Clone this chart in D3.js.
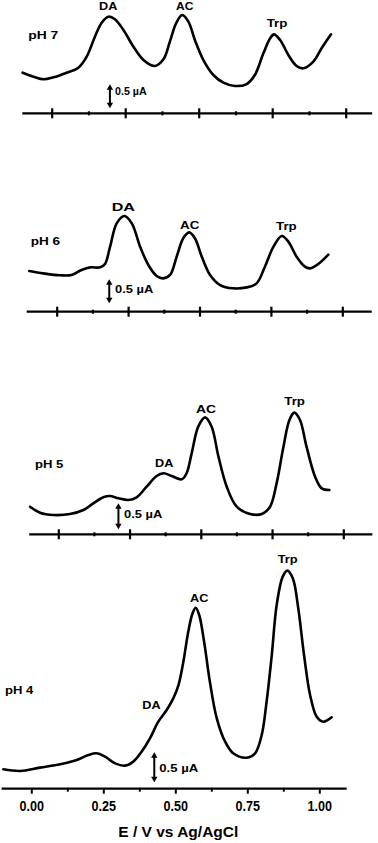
<!DOCTYPE html>
<html>
<head>
<meta charset="utf-8">
<script src="https://cdn.jsdelivr.net/npm/d3@7"></script>
<style>
  html, body { margin: 0; padding: 0; background: #fff; }
  svg { display: block; }
  text { font-family: "Liberation Sans", Arial, sans-serif; font-weight: bold; fill: #000; }
</style>
</head>
<body>
<svg id="chart" width="378" height="843"></svg>
<script>
// ---------------- DATA ----------------
const majorTicks = [0, 0.25, 0.5, 0.75, 1.0];
const minorTicks = [0.125, 0.375, 0.625, 0.875];
const tickLabels = ["0.00", "0.25", "0.50", "0.75", "1.00"];
const xTitle = "E / V vs Ag/AgCl";
const scaleBarValue = 0.5; // µA
const scaleBarLabel = "0.5 µA";

// pH 7
const potential_pH7 = [-0.099,-0.062,-0.028,0.006,0.051,0.091,0.119,0.147,0.170,0.193,0.215,0.244,0.278,0.312,0.351,0.380,0.402,0.423,0.444,0.465,0.487,0.516,0.550,0.584,0.623,0.663,0.691,0.720,0.743,0.756,0.777,0.805,0.833,0.856,0.890,0.918,0.950];
const current_pH7   = [0.846,0.763,0.708,0.749,0.846,0.951,1.180,1.596,1.888,2.013,1.958,1.735,1.388,1.110,0.985,1.124,1.492,1.874,2.048,1.909,1.527,1.110,0.798,0.638,0.569,0.610,0.798,1.249,1.562,1.645,1.527,1.215,0.985,0.937,1.076,1.354,1.645];

// pH 6
const potential_pH6 = [-0.096,-0.047,0.012,0.052,0.087,0.117,0.152,0.169,0.187,0.210,0.237,0.263,0.292,0.321,0.350,0.373,0.397,0.420,0.443,0.464,0.484,0.508,0.537,0.572,0.618,0.665,0.700,0.729,0.759,0.788,0.811,0.840,0.869,0.887,0.916,0.951];
const current_pH6   = [0.848,0.799,0.758,0.765,0.869,0.924,0.924,0.994,1.355,1.841,1.994,1.841,1.355,0.973,0.744,0.695,0.765,1.146,1.529,1.653,1.529,1.146,0.765,0.556,0.487,0.507,0.591,0.938,1.355,1.577,1.459,1.146,0.938,0.903,0.994,1.188];

// pH 5
const potential_pH5 = [-0.099,-0.064,-0.017,0.041,0.088,0.123,0.158,0.181,0.211,0.246,0.275,0.310,0.345,0.369,0.398,0.433,0.450,0.468,0.491,0.515,0.538,0.562,0.591,0.626,0.673,0.714,0.743,0.766,0.790,0.811,0.828,0.848,0.871,0.901,0.924,0.951];
const current_pH5   = [0.531,0.416,0.371,0.390,0.467,0.596,0.711,0.737,0.692,0.660,0.711,0.916,1.121,1.173,1.121,1.057,1.173,1.557,2.070,2.249,2.070,1.493,0.916,0.531,0.390,0.390,0.531,0.980,1.685,2.198,2.339,2.198,1.685,1.108,0.884,0.852];

// pH 4
const potential_pH4 = [-0.097,-0.039,0.030,0.100,0.158,0.198,0.227,0.256,0.291,0.325,0.354,0.383,0.412,0.441,0.470,0.493,0.511,0.528,0.545,0.560,0.571,0.583,0.600,0.620,0.644,0.673,0.701,0.748,0.777,0.800,0.817,0.835,0.852,0.873,0.889,0.908,0.927,0.947,0.968,0.991,1.014,1.043];
const current_pH4   = [0.323,0.295,0.351,0.406,0.478,0.562,0.590,0.534,0.423,0.384,0.451,0.617,0.840,1.117,1.312,1.506,1.728,2.117,2.617,2.923,3.017,2.895,2.451,1.784,1.173,0.784,0.590,0.517,0.590,0.895,1.451,2.228,3.062,3.534,3.634,3.506,3.006,2.228,1.562,1.200,1.117,1.190];

const panelNames = ["pH 7", "pH 6", "pH 5", "pH 4"];
const peakNames = ["DA", "AC", "Trp"];

// ---------------- LAYOUT (positions / sizes) ----------------
const panels = [
  { name: panelNames[0], v: potential_pH7, i: current_pH7,
    axisY: 113.3, ppu: 48, x0: 51.7, ppv: 294, xDom: [-0.1, 1.09], bottom: false,
    bar: { v: 0.198, i: 0.104 },
    labels: [
      { t: peakNames[0], x: 99,    y: 9.5,   w: 18.3 },
      { t: peakNames[1], x: 176,   y: 9.5,   w: 17.3 },
      { t: peakNames[2], x: 266.7, y: 26.7,  w: 20.7 },
      { t: panelNames[0], x: 28.3, y: 39.3,  w: 30 },
      { t: scaleBarLabel, x: 115,  y: 95,    w: 31.7 }
    ] },
  { name: panelNames[1], v: potential_pH6, i: current_pH6,
    axisY: 311.7, ppu: 48, x0: 56.7, ppv: 285.6, xDom: [-0.105, 1.103], bottom: false,
    bar: { v: 0.184, i: 0.175 },
    labels: [
      { t: peakNames[0], x: 111.7, y: 210.7, w: 23.3 },
      { t: peakNames[1], x: 180,   y: 229,   w: 19.3 },
      { t: peakNames[2], x: 276,   y: 230,   w: 20.7 },
      { t: panelNames[1], x: 30.7, y: 245,   w: 29.3 },
      { t: scaleBarLabel, x: 115,  y: 293.3, w: 38.3 }
    ] },
  { name: panelNames[2], v: potential_pH5, i: current_pH5,
    axisY: 534.3, ppu: 52, x0: 58.3, ppv: 285, xDom: [-0.102, 1.102], bottom: false,
    bar: { v: 0.211, i: 0.096 },
    labels: [
      { t: peakNames[1], x: 196,   y: 412.7, w: 20 },
      { t: peakNames[2], x: 284.3, y: 405,   w: 20.7 },
      { t: peakNames[0], x: 155,   y: 467.3, w: 18.3 },
      { t: panelNames[2], x: 35,   y: 468.3, w: 28.3 },
      { t: scaleBarLabel, x: 124,  y: 518,   w: 38.3 }
    ] },
  { name: panelNames[3], v: potential_pH4, i: current_pH4,
    axisY: 788.7, ppu: 60, x0: 31.3, ppv: 288, xDom: [-0.103, 1.095], bottom: true,
    bar: { v: 0.427, i: 0.107 },
    labels: [
      { t: peakNames[2], x: 277.7, y: 562.7, w: 20 },
      { t: peakNames[1], x: 190,   y: 601.7, w: 18.3 },
      { t: peakNames[0], x: 142.3, y: 709.3, w: 18.3 },
      { t: panelNames[3], x: 5,    y: 694.3, w: 28.3 },
      { t: scaleBarLabel, x: 159.3, y: 772,  w: 39 }
    ] }
];

const svg = d3.select("#chart");

panels.forEach(p => {
  const x = d3.scaleLinear().domain(p.xDom)
    .range([p.x0 + p.xDom[0] * p.ppv, p.x0 + p.xDom[1] * p.ppv]);
  const y = d3.scaleLinear().domain([0, 1]).range([p.axisY, p.axisY - p.ppu]);
  const g = svg.append("g");

  // axis
  if (p.bottom) {
    const ax = g.append("g").attr("transform", `translate(0,${p.axisY})`)
      .call(d3.axisBottom(x).tickValues(majorTicks).tickSize(5).tickPadding(4)
        .tickFormat((d, k) => tickLabels[k]));
    ax.select(".domain").attr("d", `M${x.range()[0]},0H${x.range()[1]}`)
      .attr("stroke", "#000").attr("stroke-width", 2.2);
    ax.selectAll(".tick line").attr("stroke", "#000").attr("stroke-width", 2);
    ax.selectAll(".tick text")
      .style("font-family", '"Liberation Sans", Arial, sans-serif')
      .style("font-weight", "bold").style("font-size", "14.5px")
      .attr("textLength", 24.5).attr("lengthAdjust", "spacingAndGlyphs")
      .attr("y", 12);
    const mn = g.append("g").attr("transform", `translate(0,${p.axisY})`)
      .call(d3.axisBottom(x).tickValues(minorTicks).tickSize(3).tickFormat(""));
    mn.select(".domain").remove();
    mn.selectAll(".tick line").attr("stroke", "#000").attr("stroke-width", 2);
    // title
    svg.append("text").attr("x", 118.3).attr("y", 837.3)
      .attr("font-size", 15.5).attr("textLength", 120).attr("lengthAdjust", "spacingAndGlyphs")
      .text(xTitle);
  } else {
    const ax = g.append("g").attr("transform", `translate(0,${p.axisY})`)
      .call(d3.axisBottom(x).tickValues(majorTicks).tickSize(5).tickFormat(""));
    ax.select(".domain").attr("d", `M${x.range()[0]},0H${x.range()[1]}`)
      .attr("stroke", "#000").attr("stroke-width", 2.2);
    ax.selectAll(".tick line").attr("y1", -5).attr("y2", 5)
      .attr("stroke", "#000").attr("stroke-width", 2.2);
    const mn = g.append("g").attr("transform", `translate(0,${p.axisY})`)
      .call(d3.axisBottom(x).tickValues(minorTicks).tickSize(2).tickFormat(""));
    mn.select(".domain").remove();
    mn.selectAll(".tick line").attr("y1", -2).attr("y2", 2)
      .attr("stroke", "#000").attr("stroke-width", 2.2);
  }

  // curve
  const pts = p.v.map((v, k) => [v, p.i[k]]);
  g.append("path").datum(pts)
    .attr("fill", "none").attr("stroke", "#000").attr("stroke-width", 2.6)
    .attr("stroke-linejoin", "round").attr("stroke-linecap", "round")
    .attr("d", d3.line().x(d => x(d[0])).y(d => y(d[1])).curve(d3.curveCatmullRom.alpha(0.5)));

  // scale bar (double arrow)
  const bx = x(p.bar.v), b0 = y(p.bar.i), b1 = y(p.bar.i + scaleBarValue);
  const h = 5.5, w = 3.2;
  g.append("line").attr("x1", bx).attr("x2", bx).attr("y1", b1 + h - 1).attr("y2", b0 - h + 1)
    .attr("stroke", "#000").attr("stroke-width", 2);
  g.append("path").attr("d", `M${bx},${b1}L${bx - w},${b1 + h}L${bx + w},${b1 + h}Z`).attr("fill", "#000");
  g.append("path").attr("d", `M${bx},${b0}L${bx - w},${b0 - h}L${bx + w},${b0 - h}Z`).attr("fill", "#000");

  // labels
  p.labels.forEach(l => {
    g.append("text").attr("x", l.x).attr("y", l.y)
      .attr("font-size", 11.5).attr("textLength", l.w).attr("lengthAdjust", "spacingAndGlyphs")
      .text(l.t);
  });
});
</script>
</body>
</html>
